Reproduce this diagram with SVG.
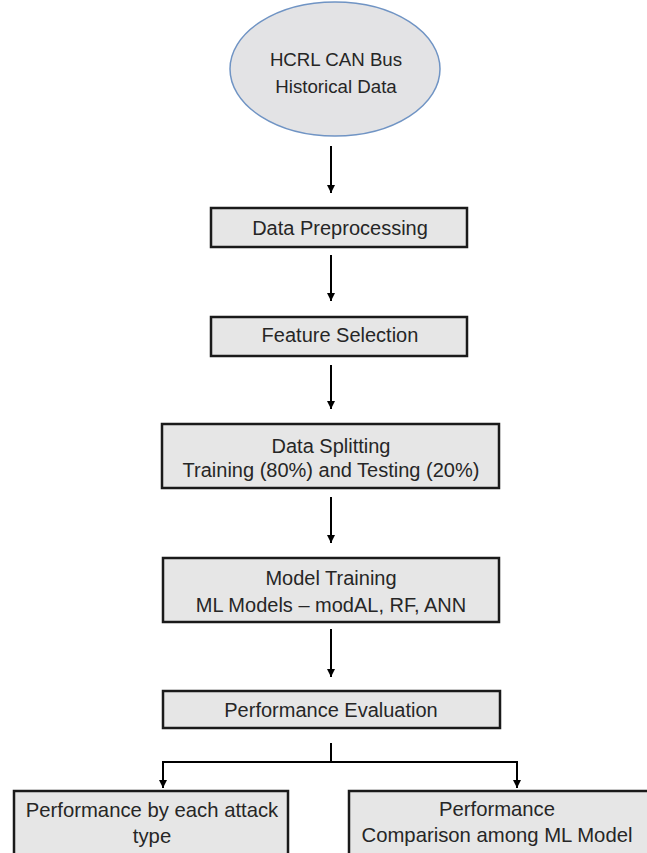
<svg xmlns="http://www.w3.org/2000/svg" width="647" height="853" viewBox="0 0 647 853">
  <style>
    .box { fill: #e6e6e6; stroke: #1a1a1a; stroke-width: 2.5; }
    .ell { fill: #e3e3e5; stroke: #7094c4; stroke-width: 1.5; }
    .lbl { font-family: "Liberation Sans", Arial, sans-serif; font-size: 20px; fill: #262626; text-anchor: middle; }
    .big { font-size: 20.3px; }
    .ellbl { font-size: 18.7px; }
    .conn { fill: none; stroke: #000; stroke-width: 2; }
  </style>
  <defs>
    <marker id="arr" markerUnits="userSpaceOnUse" markerWidth="8" markerHeight="9" refX="8" refY="4" orient="auto">
      <path d="M0,0 L8,4 L0,8 z" fill="#000"/>
    </marker>
  </defs>
  <rect width="647" height="853" fill="#ffffff"/>

  <g id="connectors">
    <line class="conn" x1="331" y1="146" x2="331" y2="193" marker-end="url(#arr)"/>
    <line class="conn" x1="331" y1="255" x2="331" y2="301" marker-end="url(#arr)"/>
    <line class="conn" x1="331" y1="365" x2="331" y2="409" marker-end="url(#arr)"/>
    <line class="conn" x1="331" y1="497" x2="331" y2="543" marker-end="url(#arr)"/>
    <line class="conn" x1="331" y1="629" x2="331" y2="677" marker-end="url(#arr)"/>
    <line class="conn" x1="331" y1="743" x2="331" y2="762"/>
    <polyline class="conn" points="331,762 163,762 163,788" marker-end="url(#arr)"/>
    <polyline class="conn" points="331,762 517,762 517,788" marker-end="url(#arr)"/>
  </g>

  <g id="source">
    <ellipse class="ell" cx="335" cy="69" rx="105" ry="67"/>
    <text class="lbl ellbl" x="336" y="66">HCRL CAN Bus</text>
    <text class="lbl ellbl" x="336" y="93">Historical Data</text>
  </g>

  <g id="preprocessing">
    <rect class="box" x="211" y="208" width="256" height="39"/>
    <text class="lbl" x="340" y="235">Data Preprocessing</text>
  </g>

  <g id="feature-selection">
    <rect class="box" x="211" y="317" width="256" height="39"/>
    <text class="lbl" x="340" y="342">Feature Selection</text>
  </g>

  <g id="data-splitting">
    <rect class="box" x="162" y="424" width="337" height="64"/>
    <text class="lbl" x="331" y="453">Data Splitting</text>
    <text class="lbl" x="331" y="477">Training (80%) and Testing (20%)</text>
  </g>

  <g id="model-training">
    <rect class="box" x="163" y="558" width="336" height="64"/>
    <text class="lbl" x="331" y="585">Model Training</text>
    <text class="lbl" x="331" y="612">ML Models – modAL, RF, ANN</text>
  </g>

  <g id="performance-evaluation">
    <rect class="box" x="163" y="691" width="337" height="37"/>
    <text class="lbl" x="331" y="717">Performance Evaluation</text>
  </g>

  <g id="perf-attack-type">
    <rect class="box" x="14" y="791" width="274" height="80"/>
    <text class="lbl big" x="152" y="817">Performance by each attack</text>
    <text class="lbl big" x="152" y="843">type</text>
  </g>

  <g id="perf-comparison">
    <rect class="box" x="349" y="791" width="310" height="80"/>
    <text class="lbl big" x="497" y="816">Performance</text>
    <text class="lbl big" x="497" y="842">Comparison among ML Model</text>
  </g>
</svg>
